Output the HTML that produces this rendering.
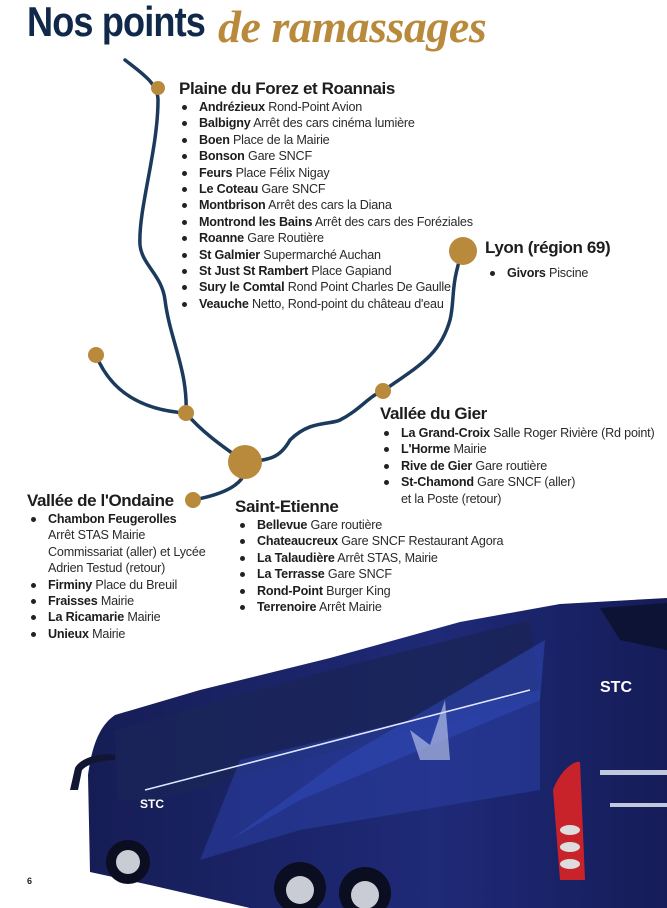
<!DOCTYPE html>
<html><head><meta charset="utf-8"><style>
html,body{margin:0;padding:0;background:#fff;}
body{width:667px;height:908px;position:relative;overflow:hidden;font-family:"Liberation Sans",sans-serif;color:#2a2a2a;}
h1{position:absolute;left:27px;top:-2px;margin:0;font-size:42px;font-weight:bold;color:#10294a;letter-spacing:-1px;transform:scaleX(0.86);transform-origin:0 0;}
.script{position:absolute;left:218px;top:0px;font-family:"Liberation Serif",serif;font-style:italic;font-weight:bold;font-size:46px;color:#b98a3c;letter-spacing:-0.5px;}
.h{position:absolute;font-size:17px;font-weight:bold;color:#1d1d1d;letter-spacing:-0.4px;white-space:nowrap;}
ul{position:absolute;margin:0;padding:0;list-style:none;font-size:12.6px;line-height:16.4px;letter-spacing:-0.2px;}
li{position:relative;padding-left:20px;white-space:nowrap;}
li.b:before{content:"";position:absolute;left:3px;top:6px;width:5px;height:5px;border-radius:50%;background:#222;}
b{font-weight:bold;color:#1d1d1d;}
</style></head><body>
<h1>Nos points</h1>
<div class="script">de ramassages</div>

<svg width="667" height="908" style="position:absolute;left:0;top:0">
<g fill="none" stroke="#1b3a5c" stroke-width="3.5" stroke-linecap="round">
<path d="M125,60 C145,75 158,85 158,100 C158,150 138,210 140,245 C142,265 162,275 165,300 C170,340 188,370 186,413"/>
<path d="M96,355 C110,390 140,410 186,413 C200,430 220,445 245,462"/>
<path d="M245,462 C250,485 220,495 193,500"/>
<path d="M245,462 C270,460 280,458 290,440 C310,420 330,425 340,420 C360,410 370,395 383,391 C420,365 440,355 450,320 C455,300 450,285 463,250"/>
</g>
<g fill="#b98a3c">
<circle cx="158" cy="88" r="7"/>
<circle cx="96" cy="355" r="8"/>
<circle cx="186" cy="413" r="8"/>
<circle cx="245" cy="462" r="17"/>
<circle cx="193" cy="500" r="8"/>
<circle cx="383" cy="391" r="8"/>
<circle cx="463" cy="251" r="14"/>
</g>
<defs><linearGradient id="g1" x1="0" y1="0" x2="1" y2="0"><stop offset="0" stop-color="#161d55"/><stop offset="0.6" stop-color="#1f2a78"/><stop offset="1" stop-color="#151c58"/></linearGradient></defs>
<path d="M88,775 C92,745 100,725 115,715 L200,690 L330,658 L460,622 L560,604 L667,598 L667,908 L250,908 L150,885 L90,872 Z" fill="url(#g1)"/>
<path d="M115,730 L330,670 L530,620 L540,700 L300,760 L160,800 L118,800 Z" fill="#1a2458" opacity="0.85"/>
<path d="M200,860 L240,760 L540,690 L540,790 L300,830 Z" fill="#2a3da0" opacity="0.6"/>
<path d="M230,840 L300,800 L540,700 L545,640 L340,760 Z" fill="#3048b8" opacity="0.55"/>
<path d="M145,790 L530,690" stroke="#dfe6ff" stroke-width="1.5"/>
<path d="M600,608 L667,603 L667,650 L620,640 Z" fill="#0d1335"/>
<path d="M553,790 C560,770 575,760 580,762 L585,880 L560,880 Z" fill="#c8232a"/>
<g fill="#ddd"><ellipse cx="570" cy="830" rx="10" ry="5"/><ellipse cx="570" cy="847" rx="10" ry="5"/><ellipse cx="570" cy="864" rx="10" ry="5"/></g>
<rect x="600" y="770" width="67" height="5" fill="#c0c8e0"/><rect x="610" y="803" width="57" height="4" fill="#c0c8e0"/>
<path d="M115,755 C100,752 80,758 75,768 L70,790 L78,790 L82,770 C90,762 105,760 115,760 Z" fill="#111633"/>
<g fill="#0b0d20"><circle cx="128" cy="862" r="22"/><circle cx="300" cy="888" r="26"/><circle cx="365" cy="893" r="26"/></g>
<g fill="#c9ccd4"><circle cx="128" cy="862" r="12"/><circle cx="300" cy="890" r="14"/><circle cx="365" cy="895" r="14"/></g>
<path d="M420,760 L410,730 L430,745 L445,700 L450,760 Z" fill="#c8d2f0" opacity="0.6"/>
<text x="140" y="808" font-family="Liberation Sans" font-weight="bold" font-size="12" fill="#fff">STC</text>
<text x="600" y="692" font-family="Liberation Sans" font-weight="bold" font-size="16" fill="#fff">STC</text>
<text x="27" y="884" font-family="Liberation Sans" font-weight="bold" font-size="9" fill="#222">6</text>
</svg>

<div class="h" style="left:179px;top:79px">Plaine du Forez et Roannais</div>
<ul style="left:179px;top:99px">
<li class="b"><b>Andrézieux</b> Rond-Point Avion</li>
<li class="b"><b>Balbigny</b> Arrêt des cars cinéma lumière</li>
<li class="b"><b>Boen</b> Place de la Mairie</li>
<li class="b"><b>Bonson</b> Gare SNCF</li>
<li class="b"><b>Feurs</b> Place Félix Nigay</li>
<li class="b"><b>Le Coteau</b> Gare SNCF</li>
<li class="b"><b>Montbrison</b> Arrêt des cars la Diana</li>
<li class="b"><b>Montrond les Bains</b> Arrêt des cars des Foréziales</li>
<li class="b"><b>Roanne</b> Gare Routière</li>
<li class="b"><b>St Galmier</b> Supermarché Auchan</li>
<li class="b"><b>St Just St Rambert</b> Place Gapiand</li>
<li class="b"><b>Sury le Comtal</b> Rond Point Charles De Gaulle</li>
<li class="b"><b>Veauche</b> Netto, Rond-point du château d'eau</li>
</ul>

<div class="h" style="left:485px;top:238px">Lyon (région 69)</div>
<ul style="left:487px;top:265px"><li class="b"><b>Givors</b> Piscine</li></ul>

<div class="h" style="left:380px;top:404px">Vallée du Gier</div>
<ul style="left:381px;top:425px">
<li class="b"><b>La Grand-Croix</b> Salle Roger Rivière (Rd point)</li>
<li class="b"><b>L'Horme</b> Mairie</li>
<li class="b"><b>Rive de Gier</b> Gare routière</li>
<li class="b"><b>St-Chamond</b> Gare SNCF (aller)</li>
<li>et la Poste (retour)</li>
</ul>

<div class="h" style="left:27px;top:491px">Vallée de l'Ondaine</div>
<ul style="left:28px;top:511px">
<li class="b"><b>Chambon Feugerolles</b></li>
<li>Arrêt STAS Mairie</li>
<li>Commissariat (aller) et Lycée</li>
<li>Adrien Testud (retour)</li>
<li class="b"><b>Firminy</b> Place du Breuil</li>
<li class="b"><b>Fraisses</b> Mairie</li>
<li class="b"><b>La Ricamarie</b> Mairie</li>
<li class="b"><b>Unieux</b> Mairie</li>
</ul>

<div class="h" style="left:235px;top:497px">Saint-Etienne</div>
<ul style="left:237px;top:517px">
<li class="b"><b>Bellevue</b> Gare routière</li>
<li class="b"><b>Chateaucreux</b> Gare SNCF Restaurant Agora</li>
<li class="b"><b>La Talaudière</b> Arrêt STAS, Mairie</li>
<li class="b"><b>La Terrasse</b> Gare SNCF</li>
<li class="b"><b>Rond-Point</b> Burger King</li>
<li class="b"><b>Terrenoire</b> Arrêt Mairie</li>
</ul>
</body></html>
